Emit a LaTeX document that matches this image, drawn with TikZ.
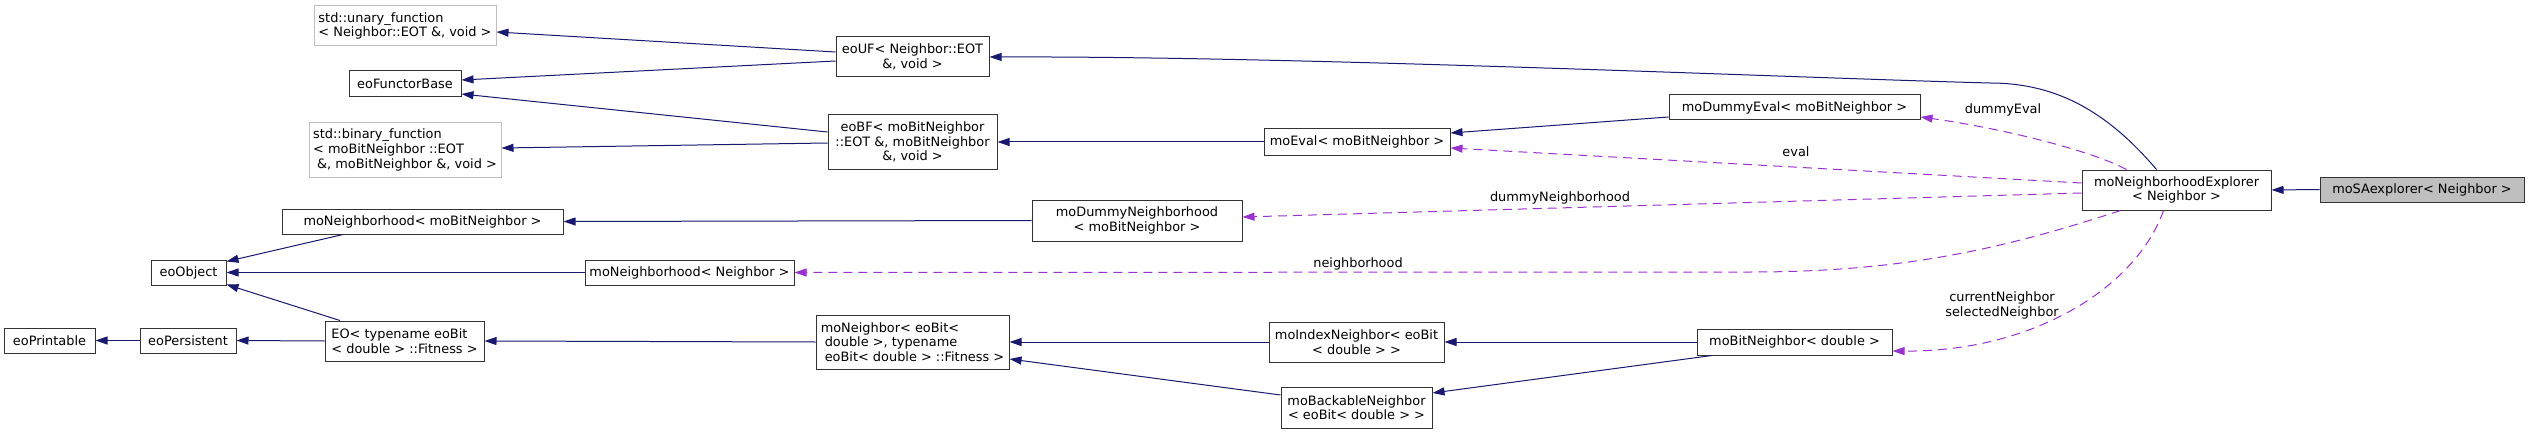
\documentclass[tikz,border=0pt]{standalone}
\usepackage{fontspec}
\setmainfont{DejaVu Sans}
\usetikzlibrary{arrows.meta}
\definecolor{navy}{HTML}{191970}
\definecolor{orch}{HTML}{9A32CD}
\definecolor{lgray}{HTML}{BFBFBF}
\definecolor{bdr}{HTML}{333333}
\tikzset{
  box/.style={draw=bdr, line width=1pt, fill=white, inner sep=0pt, font=\fontsize{12.9}{14.6}\selectfont, align=center},
  gbox/.style={box, draw=lgray},
  lbl/.style={inner sep=0pt, font=\fontsize{12.9}{14.6}\selectfont, align=center},
  inh/.style={navy, line width=1pt, -{Triangle[length=12pt,width=8pt]}},
  use/.style={orch, line width=1pt, dash pattern=on 9pt off 6pt, -{Triangle[length=12pt,width=8pt]}}
}
\begin{document}
\begin{tikzpicture}[x=1pt,y=-1pt]
\fill[white] (0,0) rectangle (2529,433);
\useasboundingbox (0,0) rectangle (2529,433);
% nodes
\node[gbox, minimum width=182pt, minimum height=40pt, align=left] (unary) at (405,26) {std::unary\_function\\< Neighbor::EOT \&, void >};
\node[box, minimum width=112pt, minimum height=26pt] (functor) at (405,84) {eoFunctorBase};
\node[gbox, minimum width=192pt, minimum height=54pt, align=left] (binary) at (405,150) {std::binary\_function\\< moBitNeighbor ::EOT\\\hspace*{4pt}\&, moBitNeighbor \&, void >};
\node[box, minimum width=281pt, minimum height=25pt] (nhbit) at (422.5,221.5) {moNeighborhood< moBitNeighbor >};
\node[box, minimum width=75pt, minimum height=25pt] (eoObject) at (188.5,272.5) {eoObject};
\node[box, minimum width=91pt, minimum height=25pt] (eoPrintable) at (49.5,340.5) {eoPrintable};
\node[box, minimum width=96pt, minimum height=25pt] (eoPersistent) at (188,340.5) {eoPersistent};
\node[box, minimum width=159pt, minimum height=40pt, align=left] (EO) at (404.5,341) {EO< typename eoBit\\< double > ::Fitness >};
\node[box, minimum width=153pt, minimum height=40pt] (eoUF) at (912.5,57) {eoUF< Neighbor::EOT\\\&, void >};
\node[box, minimum width=169pt, minimum height=54pt] (eoBF) at (912.5,142) {eoBF< moBitNeighbor\\::EOT \&, moBitNeighbor\\\&, void >};
\node[box, minimum width=209pt, minimum height=25pt] (nhN) at (689.5,272.5) {moNeighborhood< Neighbor >};
\node[box, minimum width=193pt, minimum height=54pt, align=left] (moNeighbor) at (912.5,342) {moNeighbor< eoBit<\\\hspace*{4pt}double >, typename\\\hspace*{4pt}eoBit< double > ::Fitness >};
\node[box, minimum width=210pt, minimum height=41pt] (dummyNh) at (1137,220.5) {moDummyNeighborhood\\< moBitNeighbor >};
\node[box, minimum width=186pt, minimum height=26pt] (moEval) at (1357,142) {moEval< moBitNeighbor >};
\node[box, minimum width=175pt, minimum height=40pt] (indexN) at (1356.5,342) {moIndexNeighbor< eoBit\\< double > >};
\node[box, minimum width=151pt, minimum height=41pt] (backN) at (1356.5,407.5) {moBackableNeighbor\\< eoBit< double > >};
\node[box, minimum width=251pt, minimum height=25pt] (dummyEval) at (1794.5,107.5) {moDummyEval< moBitNeighbor >};
\node[box, minimum width=195pt, minimum height=26pt] (bitN) at (1794.5,342) {moBitNeighbor< double >};
\node[box, minimum width=189pt, minimum height=40pt] (explorer) at (2176.5,190) {moNeighborhoodExplorer\\< Neighbor >};
\node[box, fill=lgray, minimum width=204pt, minimum height=25pt] (sa) at (2422,189.5) {moSAexplorer< Neighbor >};
% labels
\node[lbl] (l1) at (2003,110) {dummyEval};
\node[lbl] (l2) at (1796,152) {eval};
\node[lbl] (l3) at (1560,198) {dummyNeighborhood};
\node[lbl] (l4) at (1358,264) {neighborhood};
\node[lbl] (l5) at (2002,305.5) {currentNeighbor\\selectedNeighbor};
% edges
\draw[inh] ([yshift=5pt]eoUF.west) -- ([yshift=-6pt]unary.east);
\draw[inh] ([yshift=-4pt]eoUF.west) -- ([yshift=4pt]functor.east);
\draw[inh] ([yshift=10pt]eoBF.west) -- ([yshift=-10pt]functor.east);
\draw[inh] ([yshift=-1pt]eoBF.west) -- ([yshift=2pt]binary.east);
\draw[inh] ([xshift=-20pt]explorer.north) .. controls (2110,115) and (2060,83) .. (1990,83) .. controls (1800,78) and (1300,56) .. (eoUF.east);
\draw[inh] (moEval.west) -- (eoBF.east);
\draw[inh] ([yshift=-9.5pt]dummyEval.west) -- ([yshift=9pt]moEval.east);
\draw[use] ([xshift=-50pt]explorer.north) .. controls (2090,150) and (2000,128) .. ([yshift=-9.5pt]dummyEval.east);
\draw[use] ([yshift=7pt]explorer.west) -- ([yshift=-6pt]moEval.east);
\draw[use] ([yshift=-3pt]explorer.west) -- ([yshift=3.5pt]dummyNh.east);
\draw[use] ([xshift=-56pt]explorer.south) .. controls (2000,250) and (1900,272) .. (1750,272) -- (nhN.east);
\draw[use] ([xshift=-13pt]explorer.south) .. controls (2135,290) and (2030,352) .. ([yshift=-9pt]bitN.east);
\draw[inh] (sa.west) -- (explorer.east);
\draw[inh] (dummyNh.west) -- (nhbit.east);
\draw[inh] ([xshift=-79.5pt]nhbit.south) -- ([yshift=11pt]eoObject.east);
\draw[inh] (nhN.west) -- (eoObject.east);
\draw[inh] ([xshift=-64.5pt]EO.north) -- ([yshift=-12pt]eoObject.east);
\draw[inh] (EO.west) -- (eoPersistent.east);
\draw[inh] (eoPersistent.west) -- (eoPrintable.east);
\draw[inh] (moNeighbor.west) -- (EO.east);
\draw[inh] (indexN.west) -- (moNeighbor.east);
\draw[inh] ([yshift=12.5pt]backN.west) -- ([yshift=-17pt]moNeighbor.east);
\draw[inh] (bitN.west) -- (indexN.east);
\draw[inh] ([xshift=-82.5pt]bitN.south) -- ([yshift=14.5pt]backN.east);
\end{tikzpicture}
\end{document}
